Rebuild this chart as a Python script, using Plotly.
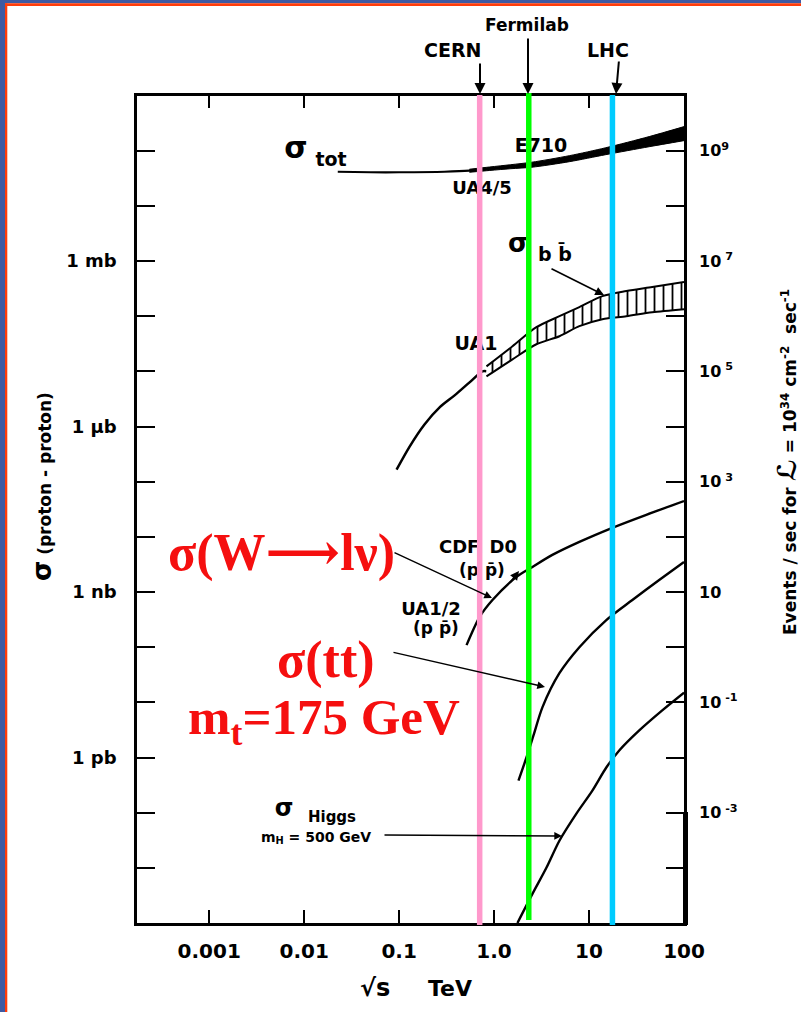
import plotly.graph_objects as go

# ---------------- data ----------------
# sqrt(s) in TeV, cross sections in mb
energy_tot_thin = [0.0226, 0.05, 0.1, 0.3, 0.55, 0.9]
sigma_tot_thin = [41.5, 40.6, 40.6, 41.5, 43.3, 47.1]
energy_tot_band = [0.55, 0.9, 1.5, 2.5, 6.2, 15, 43, 100]
sigma_tot_hi = [46.1, 50.6, 55.7, 61.8, 81.1, 113, 180, 273]
sigma_tot_lo = [40.6, 43.8, 47.1, 50.1, 63.1, 84.6, 118, 152]

energy_bb_line = [0.094, 0.129, 0.185, 0.267, 0.384, 0.552, 0.755, 0.832]
sigma_bb_line = [1.65e-4, 4.33e-4, 1.09e-3, 2.22e-3, 3.66e-3, 6.31e-3, 0.0100, 0.0100]
energy_bb_band = [0.832, 1.563, 2.79, 4.88, 7.91, 13.8, 24.7, 46.3, 100]
sigma_bb_hi = [0.0123, 0.0285, 0.0631, 0.100, 0.146, 0.231, 0.285, 0.337, 0.415]
sigma_bb_lo = [0.0081, 0.0165, 0.031, 0.0433, 0.0658, 0.0881, 0.100, 0.118, 0.134]

energy_W = [0.513, 0.703, 0.962, 1.722, 2.535, 4.11, 7.91, 17.6, 40.1, 100]
sigma_W = [1.09e-7, 3.51e-7, 7.16e-7, 1.88e-6, 2.85e-6, 4.71e-6, 8.11e-6, 1.46e-5, 2.51e-5, 4.45e-5]

energy_tt = [1.807, 2.193, 2.6, 3.228, 4.875, 7.91, 15.2, 28.6, 54.8, 100]
sigma_tt = [3.82e-10, 1.0e-9, 2.51e-9, 8.11e-9, 3.37e-8, 1.0e-7, 3.1e-7, 7.16e-7, 1.65e-6, 3.5e-6]

energy_H = [1.762, 2.535, 3.556, 4.875, 7.36, 10.84, 15.2, 20.8, 33.8, 59.0, 100]
sigma_H = [1.0e-12, 3.37e-12, 1.0e-11, 3.1e-11, 9.6e-11, 2.51e-10, 6.58e-10, 1.34e-9, 3.1e-9, 7.16e-9, 1.5e-8]

collider_names = ["CERN", "Fermilab", "LHC"]
collider_energy = [0.66, 2.17, 16.5]
collider_colors = ["#FF99CC", "#00FF00", "#00CCFF"]

x_tickvals = [0.001, 0.01, 0.1, 1, 10, 100]
x_ticktext = ["0.001", "0.01", "0.1", "1.0", "10", "100"]
left_labels = {0: "1 mb", -3: "1 \u03bcb", -6: "1 nb", -9: "1 pb"}
right_labels = {9: "10<sup>9</sup>", 7: "10<sup> 7</sup>", 5: "10<sup> 5</sup>", 3: "10<sup> 3</sup>",
                1: "10", -1: "10<sup> -1</sup>", -3: "10<sup> -3</sup>"}

# ---------------- layout geometry ----------------
W, H = 801, 1012
L, R, T, B = 137, 684, 95.5, 923
XR = [-3.76, 2.0]
YR = [-12, 3]
SANS = "DejaVu Sans"
SERIF = "Liberation Serif"
RED = "rgb(245,15,15)"


def px(x):
    return x / W


def py(y):
    return 1 - y / H


def dx(p):
    return 10 ** (XR[0] + (p - L) / (R - L) * (XR[1] - XR[0]))


def dy(p):
    return 10 ** (YR[1] - (p - T) / (B - T) * (YR[1] - YR[0]))


fig = go.Figure()
SP = dict(shape="spline", smoothing=0.8)

# sigma_tot
fig.add_trace(go.Scatter(x=energy_tot_thin, y=sigma_tot_thin, mode="lines",
                         line=dict(color="black", width=2.2, **SP), showlegend=False))
fig.add_trace(go.Scatter(x=energy_tot_band, y=sigma_tot_lo, mode="lines",
                         line=dict(color="black", width=1, **SP), showlegend=False))
fig.add_trace(go.Scatter(x=energy_tot_band, y=sigma_tot_hi, mode="lines", fill="tonexty",
                         fillcolor="black", line=dict(color="black", width=1, **SP),
                         showlegend=False))

# sigma_bb
fig.add_trace(go.Scatter(x=energy_bb_line, y=sigma_bb_line, mode="lines",
                         line=dict(color="black", width=2.5, **SP), showlegend=False))
fig.add_trace(go.Scatter(x=energy_bb_band, y=sigma_bb_lo, mode="lines",
                         line=dict(color="black", width=2, **SP), showlegend=False))
fig.add_trace(go.Scatter(x=energy_bb_band, y=sigma_bb_hi, mode="lines", fill="tonexty",
                         fillpattern=dict(shape="|", size=9, solidity=0.2, fgcolor="black",
                                          bgcolor="white"),
                         line=dict(color="black", width=2, **SP), showlegend=False))

# W, top, Higgs
for xs, ys in [(energy_W, sigma_W), (energy_tt, sigma_tt), (energy_H, sigma_H)]:
    fig.add_trace(go.Scatter(x=xs, y=ys, mode="lines",
                             line=dict(color="black", width=2.4, **SP), showlegend=False))

# black labels in the plot (drawn as text traces, so the coloured bars cover them)
labels = [
    (296, 150, "\u03c3", 30), (331, 161, "tot", 19), (541, 147, "E710", 19),
    (482, 189, "UA4/5", 18), (518, 245, "\u03c3", 26), (555, 256, "b b\u0304", 19),
    (476, 345, "UA1", 19), (478, 548, "CDF, D0", 18), (482, 572, "(p p\u0304)", 17),
    (431, 610, "UA1/2", 18), (436, 630, "(p p\u0304)", 17),
    (284, 810, "\u03c3", 24), (332, 818, "Higgs", 15), (316, 838, "m<sub>H</sub> = 500 GeV", 14),
]
for (lx, ly, t, s) in labels:
    fig.add_trace(go.Scatter(x=[dx(lx)], y=[dy(ly)], mode="text", text=[t],
                             textposition="middle center",
                             textfont=dict(family=SANS, size=s, color="black", weight="bold"),
                             showlegend=False, cliponaxis=False))

# dummy trace for right axis
fig.add_trace(go.Scatter(x=[1], y=[1], yaxis="y2", mode="markers", marker=dict(opacity=0),
                         showlegend=False, hoverinfo="skip"))

shapes = []
# coloured collider bars
for e, c, y0, y1 in zip(collider_energy, collider_colors, [925, 920, 925], [95, 93, 95]):
    shapes.append(dict(type="rect", xref="x", yref="paper", xsizemode="pixel", xanchor=e,
                       x0=-5.5, x1=5.5, y0=py(y0), y1=py(y1), fillcolor=c,
                       line=dict(width=0), layer="above"))
# thick lower part of right axis
shapes.append(dict(type="rect", xref="paper", yref="paper", x0=px(R - 1), x1=px(R + 4),
                   y0=py(925), y1=py(812), fillcolor="black", line=dict(width=0)))
# frame
shapes += [
    dict(type="rect", xref="paper", yref="paper", x0=0, x1=px(5), y0=0, y1=1,
         fillcolor="rgb(63,90,162)", line=dict(width=0)),
    dict(type="rect", xref="paper", yref="paper", x0=0, x1=1, y0=py(3.3), y1=1,
         fillcolor="rgb(63,90,162)", line=dict(width=0)),
    dict(type="rect", xref="paper", yref="paper", x0=px(5), x1=px(7.3), y0=0, y1=py(3.3),
         fillcolor="rgb(255,60,10)", line=dict(width=0)),
    dict(type="rect", xref="paper", yref="paper", x0=px(5), x1=1, y0=py(6), y1=py(3.3),
         fillcolor="rgb(255,60,10)", line=dict(width=0)),
]

ann = []


def text(x, y, t, size, family=SANS, color="black", angle=0, bold=True):
    ann.append(dict(x=px(x), y=py(y), xref="paper", yref="paper", text=t, showarrow=False,
                    textangle=angle, xanchor="center", yanchor="middle",
                    font=dict(family=family, size=size, color=color,
                              weight="bold" if bold else "normal")))


def arrow(tip, tail, width=1.6, size=1.1):
    ann.append(dict(x=px(tip[0]), y=py(tip[1]), xref="paper", yref="paper", text="",
                    showarrow=True, ax=tail[0] - tip[0], ay=tail[1] - tip[1],
                    arrowhead=2, arrowsize=size, arrowwidth=width, arrowcolor="black"))


# collider labels and arrows
text(527, 25, "Fermilab", 17)
text(452, 50, "CERN", 19)
text(608, 50, "LHC", 19)
arrow((480, 94), (480, 62), 2)
arrow((528, 94), (528, 37), 2)
arrow((616, 94), (619, 60), 2)

# arrows inside the plot
arrow((604, 295), (550, 268))
arrow((492, 598), (393, 552), 1.4)
arrow((519, 571), (509, 584))
arrow((545, 687), (392, 652), 1.4)
arrow((562, 836), (383, 835), 1.4)

# red overlay text
ARW = "<span style='font-family:DejaVu Serif'>\u27f6</span>"
text(281, 551, "\u03c3(W" + ARW + "l\u03bd)", 52, SERIF, RED)
text(326, 660, "\u03c3(tt)", 52, SERIF, RED)
text(324, 721, "m<sub>t</sub>=175 GeV", 51, SERIF, RED)

# axis titles
text(42, 487, "<span style='font-size:26px'>\u03c3</span> (proton - proton)", 17, angle=-90)
text(787, 462, "Events / sec for <span style='font-size:26px'>\u2112</span> = 10<sup>34</sup>"
     " cm<sup>-2</sup>  sec<sup>-1</sup>", 17, angle=-90)
text(375, 988, "\u221as", 24)
text(450, 988, "TeV", 22)

AX = dict(showgrid=False, zeroline=False, automargin=False, tickcolor="black")
fig.update_layout(
    template="none",
    width=W, height=H, margin=dict(l=0, r=0, t=0, b=0, pad=0),
    paper_bgcolor="white", plot_bgcolor="white", showlegend=False,
    shapes=shapes, annotations=ann,
    xaxis=dict(type="log", range=XR, domain=[px(L), px(R)], **AX,
               showline=True, linecolor="black", linewidth=2.5, mirror="ticks",
               ticks="inside", ticklen=13, tickwidth=2.2,
               tickmode="array", tickvals=x_tickvals, ticktext=x_ticktext,
               ticklabelstandoff=8,
               tickfont=dict(family=SANS, size=20, color="black", weight="bold")),
    yaxis=dict(type="log", range=YR, domain=[py(B), py(T)], **AX,
               showline=True, linecolor="black", linewidth=2.5, mirror=True,
               ticks="inside", ticklen=18, tickwidth=2.2,
               tickmode="array", tickvals=[10.0 ** k for k in range(-11, 3)],
               ticktext=[left_labels.get(k, "") for k in range(-11, 3)],
               ticklabelstandoff=14,
               tickfont=dict(family=SANS, size=18, color="black", weight="bold")),
    yaxis2=dict(type="log", range=[YR[0] + 7, YR[1] + 7], overlaying="y", side="right",
                anchor="x", **AX, showline=False,
                ticks="inside", ticklen=18, tickwidth=2.2,
                tickmode="array", tickvals=[10.0 ** k for k in range(-4, 10)],
                ticktext=[right_labels.get(k, "") for k in range(-4, 10)],
                ticklabelstandoff=14,
                tickfont=dict(family=SANS, size=16, color="black", weight="bold")),
)

fig.write_html("out.html")
